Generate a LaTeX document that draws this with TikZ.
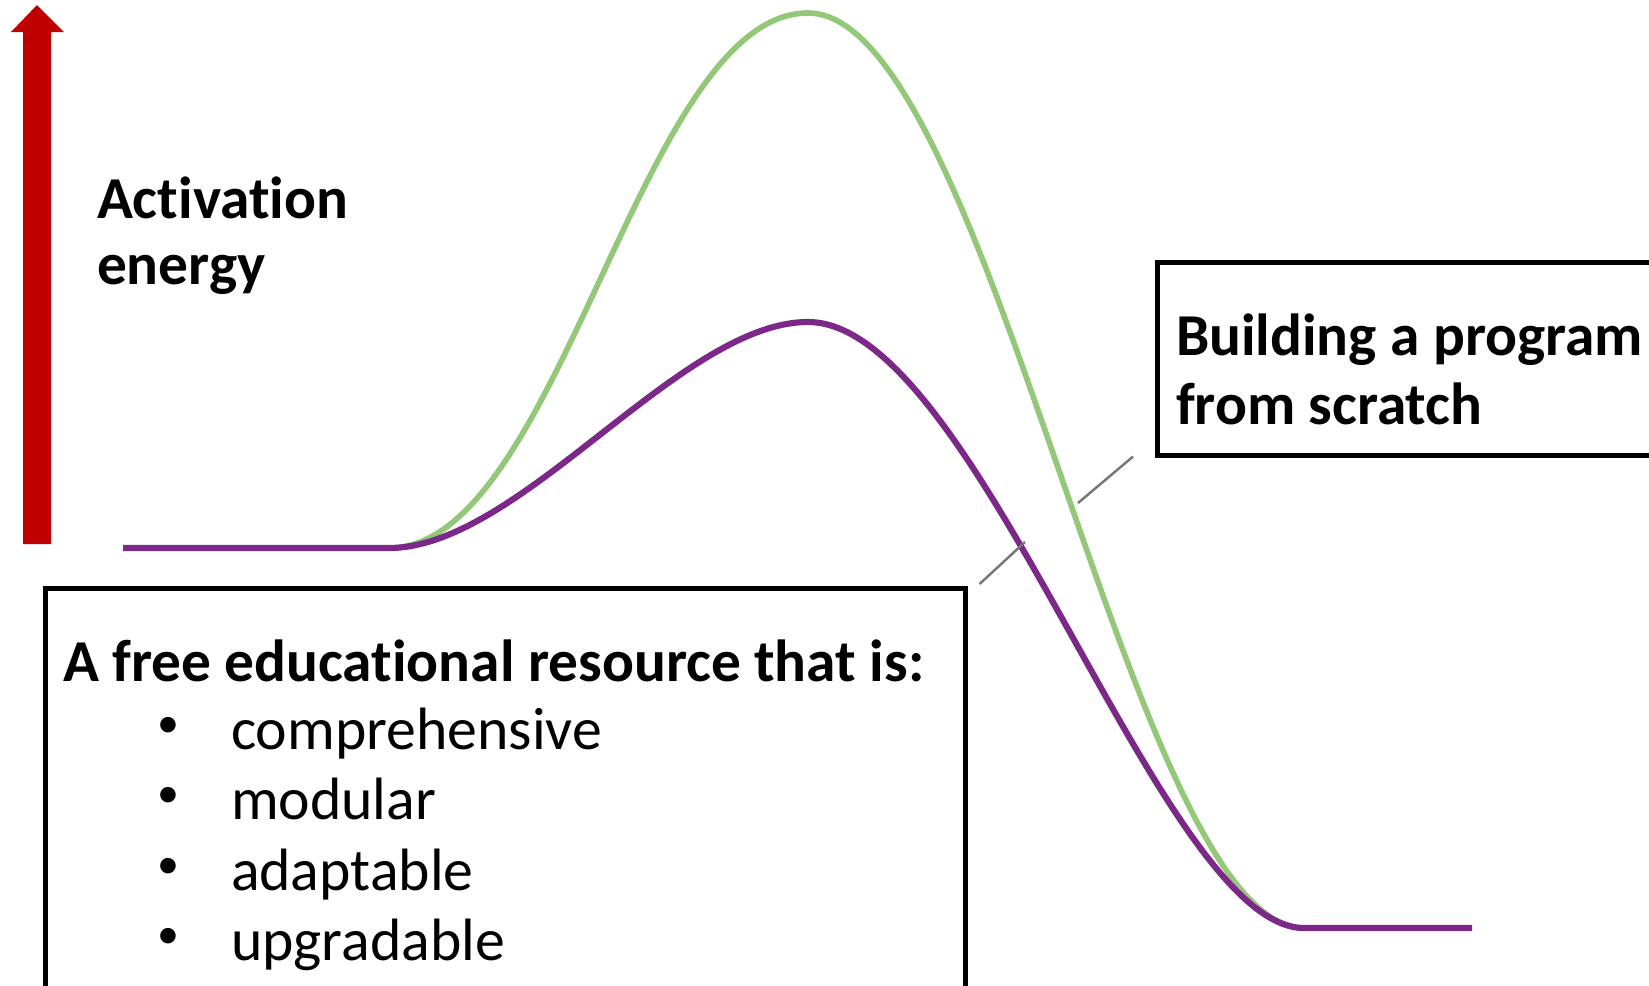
\documentclass[tikz,border=0pt]{standalone}
\usepackage{fontspec}
\setmainfont[Ligatures={NoCommon,NoContextual},RawFeature={-liga;-clig;-calt;-dlig}]{Carlito}
\definecolor{arrowred}{RGB}{192,0,0}
\definecolor{hillgreen}{RGB}{146,200,120}
\definecolor{hillpurple}{RGB}{124,40,136}
\definecolor{leadergray}{RGB}{118,118,118}
\begin{document}
\begin{tikzpicture}[x=0.1mm,y=-0.1mm,
  lbl/.style={anchor=base west, inner sep=0pt, outer sep=0pt, font=\fontsize{17}{20}\selectfont},
  lblb/.style={anchor=base west, inner sep=0pt, outer sep=0pt, font=\fontsize{16.9}{20}\selectfont\bfseries},
  bul/.style={anchor=center, inner sep=0pt, outer sep=0pt, font=\fontsize{12.5}{14}\selectfont},
  frame/.style={draw=black, line width=1.3pt, anchor=north west, inner sep=0pt},
  leader/.style={draw=leadergray, line width=0.7pt},
]
\useasboundingbox (0,0) rectangle (1649,986);
\clip (0,0) rectangle (1649,986);

% energy axis arrow
\fill[arrowred] (23,544) -- (23,32) -- (11,32) -- (37,5) -- (64,32) -- (51,32) -- (51,544) -- cycle;
\node[lblb] (act1) at (97,218) {Activation};
\node[lblb] (act2) at (97,284) {energy};

% reaction profiles
\draw[hillgreen, line width=1.6pt] (389,548) .. controls (560,548) and (640,13) .. (808,13)
  .. controls (990,13) and (1130,928) .. (1304,928);
\draw[hillpurple, line width=1.75pt] (123,548) -- (389,548) .. controls (520,548) and (680,322) .. (808,322)
  .. controls (978,322) and (1160,928) .. (1304,928) -- (1472,928);

% label boxes
\node[frame, minimum width=505*0.1mm, minimum height=193*0.1mm] (scratch) at (1155,260) {};
\node[lblb] (s1) at (1176,355) {Building a program};
\node[lblb] (s2) at (1176,424) {from scratch};

\node[frame, minimum width=920*0.1mm, minimum height=430*0.1mm] (oer) at (43,586) {};
\node[lblb] (h) at (63,681) {A free educational resource that is:};
\foreach \y/\t [count=\i] in {749/comprehensive, 819/modular, 890/adaptable, 960/upgradable}{
  \node[bul] (b\i) at (168,\y-22) {•};
  \node[lbl] (i\i) at (231,\y) {\t};
}

% leader lines
\coordinate (pOnCurve) at (1025,542);
\coordinate (gOnCurve) at (1078,503);
\draw[leader] ([xshift=12*0.1mm, yshift=2*0.1mm]oer.north east) -- (pOnCurve);
\draw[leader] (gOnCurve) -- ([xshift=-22*0.1mm, yshift=1*0.1mm]scratch.south west);
\end{tikzpicture}
\end{document}
